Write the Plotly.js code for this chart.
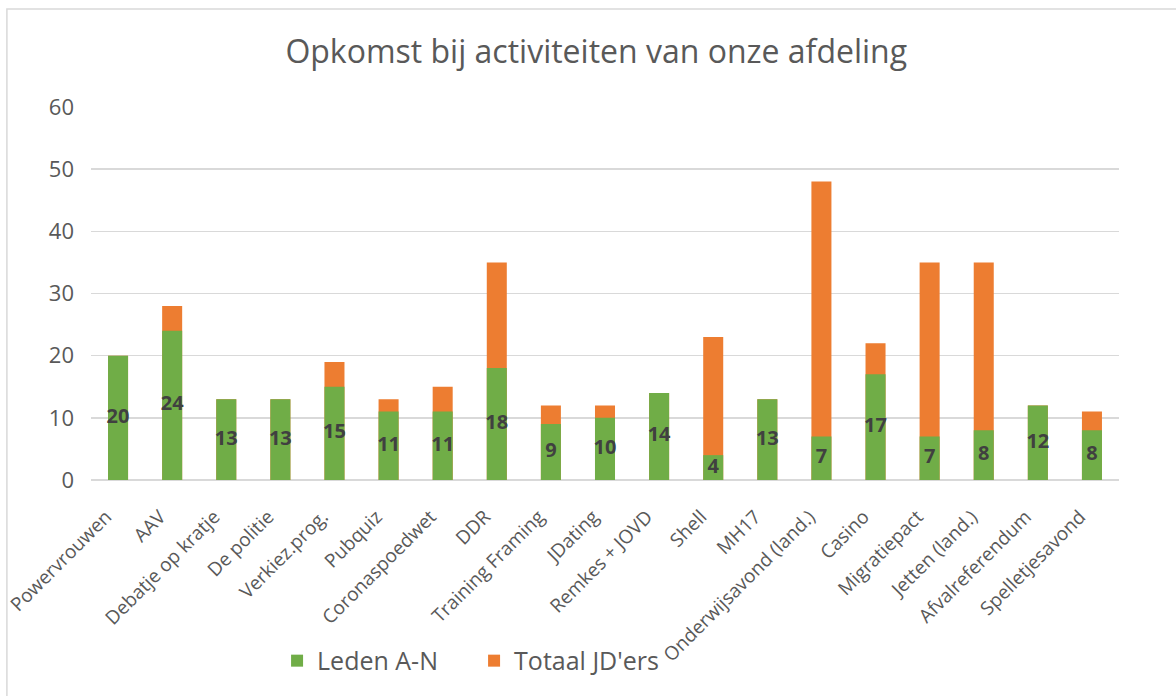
<!DOCTYPE html>
<html>
<head>
<meta charset="utf-8">
<script src="https://cdn.plot.ly/plotly-3.0.1.min.js"></script>
<style>html,body{margin:0;padding:0;background:#fff;}#chart{width:1176px;height:696px;}</style>
</head>
<body>
<div id="chart"></div>
<script>
const categories = ["Powervrouwen","AAV","Debatje op kratje","De politie","Verkiez.prog.","Pubquiz","Coronaspoedwet","DDR","Training Framing","JDating","Remkes + JOVD","Shell","MH17","Onderwijsavond (land.)","Casino","Migratiepact","Jetten (land.)","Afvalreferendum","Spelletjesavond"];
const ledenAN = [20,24,13,13,15,11,11,18,9,10,14,4,13,7,17,7,8,12,8];
const totaalJD = [20,28,13,13,19,13,15,35,12,12,14,23,13,48,22,35,35,12,11];
const yTicks = [0,10,20,30,40,50,60];

const FONT = "Open Sans, sans-serif";
const GREEN = "#70AD47", ORANGE = "#ED7D31";

const traces = [
  {type:"bar", name:"Totaal JD'ers", x:categories, y:totaalJD, width:0.37,
   marker:{color:ORANGE, line:{width:0}}, showlegend:true, legendrank:2},
  {type:"bar", name:"Leden A-N", x:categories, y:ledenAN, width:0.37,
   marker:{color:GREEN, line:{width:0}}, showlegend:true, legendrank:1},
  {type:"scatter", mode:"text", x:categories, y:ledenAN.map(v=>v/2),
   text:ledenAN.map(String), textposition:"middle center",
   textfont:{family:FONT, size:20, color:"#404040", weight:"bold"},
   showlegend:false, hoverinfo:"skip", cliponaxis:false}
];

const layout = {
  width:1176, height:696,
  margin:{l:91, r:57, t:107, b:212},
  paper_bgcolor:"#fff", plot_bgcolor:"#fff",
  barmode:"overlay",
  hovermode:false,
  title:{text:"Opkomst bij activiteiten van onze afdeling", x:0.507, xanchor:"center",
         y:0.925, yanchor:"middle", font:{family:FONT, size:32, color:"#595959"}},
  xaxis:{type:"category", range:[-0.5,18.5], tickangle:-45, tickfont:{family:FONT, size:19, color:"#595959"},
         showgrid:false, showline:false, ticks:"", zeroline:false, fixedrange:true, automargin:false,
         ticklabelstandoff:21, ticklabelshift:-12},
  yaxis:{range:[0,60], tickvals:yTicks, ticktext:yTicks.map(String),
         tickfont:{family:FONT, size:22, color:"#595959"}, automargin:false,
         gridcolor:"#D9D9D9", gridwidth:1.5, zeroline:true, zerolinecolor:"#D9D9D9", zerolinewidth:1.5,
         showline:false, ticks:"", ticklabelstandoff:16, fixedrange:true},
  legend:{orientation:"h", x:0.181, xanchor:"left", y:-0.485, yanchor:"middle",
          bgcolor:"rgba(0,0,0,0)",
          font:{family:FONT, size:25, color:"#595959"}, traceorder:"normal",
          itemwidth:30, entrywidth:152},
  shapes:[{type:"rect", xref:"paper", yref:"paper", x0:-0.0818, x1:1.2, y0:-0.7, y1:1.2626,
           line:{color:"#D9D9D9", width:1.5}, fillcolor:"rgba(0,0,0,0)", layer:"below"}],
  showlegend:true
};

Plotly.newPlot("chart", traces, layout, {displayModeBar:false, staticPlot:true});
</script>
</body>
</html>
